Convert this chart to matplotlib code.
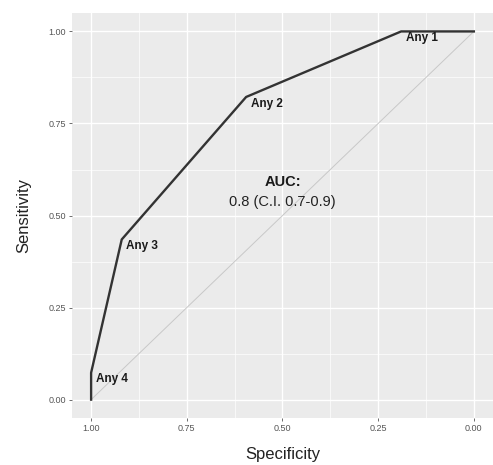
import matplotlib
matplotlib.use("Agg")
import matplotlib.pyplot as plt

plt.rcParams["font.family"] = ["Liberation Sans", "DejaVu Sans"]

# ROC points (specificity, sensitivity)
specificity = [1.00, 1.00, 0.92, 0.595, 0.19, 0.00]
sensitivity = [0.00, 0.073, 0.435, 0.822, 1.00, 1.00]
point_labels = ["", "Any 4", "Any 3", "Any 2", "Any 1", ""]
ticks = [1.00, 0.75, 0.50, 0.25, 0.00]
tick_labels = ["1.00", "0.75", "0.50", "0.25", "0.00"]
auc_title = "AUC:"
auc_text = "0.8 (C.I. 0.7-0.9)"

fig = plt.figure(figsize=(4.93, 4.65), dpi=100)
ax = fig.add_axes([0.146, 0.101, 0.854, 0.871])
ax.set_facecolor("#EBEBEB")

# ggplot-like grid
minor = [0.125, 0.375, 0.625, 0.875]
for v in minor:
    ax.axvline(v, color="white", lw=0.5, zorder=0)
    ax.axhline(v, color="white", lw=0.5, zorder=0)
for v in ticks:
    ax.axvline(v, color="white", lw=1.0, zorder=0)
    ax.axhline(v, color="white", lw=1.0, zorder=0)

# chance line
ax.plot([1, 0], [0, 1], color="#C8C8C8", lw=0.7, zorder=1)
# ROC curve
ax.plot(specificity, sensitivity, color="#333333", lw=1.7, zorder=2)

for s, v, lab in zip(specificity, sensitivity, point_labels):
    if lab:
        ax.text(s - 0.012, v - 0.018, lab, fontsize=8.5, fontweight="bold",
                ha="left", va="center", color="#1a1a1a")

ax.text(0.5, 0.59, auc_title, fontsize=10.5, fontweight="bold", ha="center",
        va="center", color="#1a1a1a")
ax.text(0.5, 0.538, auc_text, fontsize=10.5, ha="center", va="center",
        color="#222222")

ax.set_xlim(1.05, -0.05)
ax.set_ylim(-0.05, 1.05)
ax.set_xticks(ticks)
ax.set_xticklabels(tick_labels)
ax.set_yticks(ticks)
ax.set_yticklabels(tick_labels)
ax.tick_params(labelsize=6.5, labelcolor="#555555", color="#555555",
               length=2.5, width=0.6, pad=2)
for sp in ax.spines.values():
    sp.set_visible(False)

ax.set_xlabel("Specificity", fontsize=12, color="#222222", labelpad=10)
ax.set_ylabel("Sensitivity", fontsize=12, color="#222222", labelpad=12)

fig.savefig("out.png", dpi=100, facecolor="white")
